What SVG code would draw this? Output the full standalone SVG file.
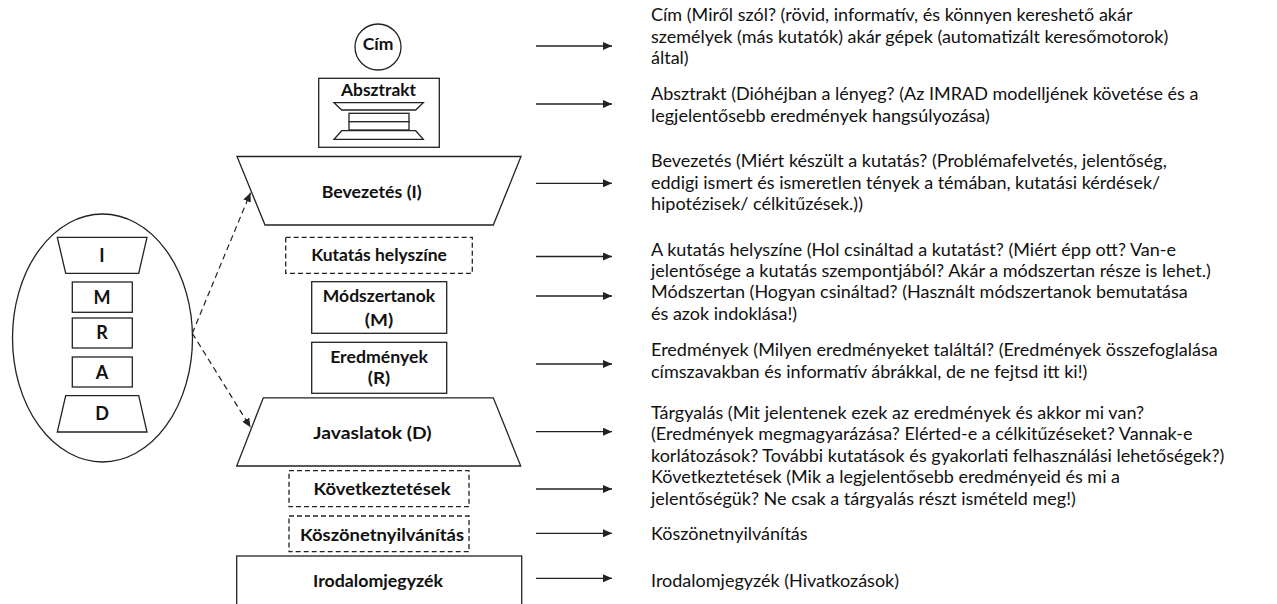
<svg xmlns="http://www.w3.org/2000/svg" width="1277" height="604" viewBox="0 0 1277 604">
<style>
.shape{fill:#fff;stroke:#222;stroke-width:1.3}
.dash{fill:#fff;stroke:#222;stroke-width:1.3;stroke-dasharray:5,3}
.lbl{font-family:Lato,"Liberation Sans",sans-serif;font-weight:bold;font-size:17px;fill:#111;text-anchor:middle}
.big{font-family:Lato,"Liberation Sans",sans-serif;font-weight:bold;font-size:18px;fill:#111;text-anchor:middle}
.txt{font-family:Lato,"Liberation Sans",sans-serif;font-size:18px;fill:#111}
.conn{fill:none;stroke:#222;stroke-width:1.3}
.dconn{fill:none;stroke:#222;stroke-width:1.2;stroke-dasharray:6,4}
</style>
<defs>
<marker id="ah" markerWidth="10" markerHeight="8" refX="9" refY="4" orient="auto" markerUnits="userSpaceOnUse">
<path d="M0,0 L9,4 L0,8 Z" fill="#222"/>
</marker>
</defs>

<g id="imrad">
<ellipse class="shape" cx="102.5" cy="338" rx="90" ry="124"/>
<polygon class="shape" points="57.3,237.3 147,237.3 138.7,273.3 65.7,273.3"/>
<text class="big" x="102" y="262">I</text>
<rect class="shape" x="72.3" y="282" width="60" height="30.3"/>
<text class="big" x="102" y="303.5">M</text>
<rect class="shape" x="72.3" y="318" width="60" height="30"/>
<text class="big" x="102" y="339.3">R</text>
<rect class="shape" x="72.3" y="357" width="60" height="30"/>
<text class="big" x="102" y="378.5">A</text>
<polygon class="shape" points="65.7,395.7 138.7,395.7 147,432 57.3,432"/>
<text class="big" x="102" y="419.5">D</text>
</g>

<g id="cim">
<circle class="shape" cx="378" cy="47" r="23"/>
<text class="lbl" x="378" y="49.5" textLength="30.7" lengthAdjust="spacingAndGlyphs">Cím</text>
</g>

<g id="absztrakt">
<rect class="shape" x="318.7" y="78.3" width="120.6" height="69"/>
<text class="lbl" x="378.5" y="95.7" textLength="75" lengthAdjust="spacingAndGlyphs">Absztrakt</text>
<polygon class="shape" points="334,102.7 423.3,102.7 415.7,110 341.7,110"/>
<rect class="shape" x="349" y="113.3" width="60" height="8.4"/>
<rect class="shape" x="349" y="121.7" width="60" height="8.3"/>
<polygon class="shape" points="341.7,130.7 415.7,130.7 423.3,139.3 334,139.3"/>
</g>

<g id="bevezetes">
<polygon class="shape" points="237,156.5 521,156.5 493.3,225 265,225"/>
<text class="lbl" x="371.7" y="197.5" textLength="100" lengthAdjust="spacingAndGlyphs">Bevezetés (I)</text>
</g>

<g id="kutatas-helyszine">
<rect class="dash" x="285.7" y="237.3" width="186.6" height="36"/>
<text class="lbl" x="379" y="261" textLength="135.7" lengthAdjust="spacingAndGlyphs">Kutatás helyszíne</text>
</g>

<g id="modszertanok">
<rect class="shape" x="311.7" y="281.7" width="135" height="51.6"/>
<text class="lbl" x="379" y="302" textLength="112.3" lengthAdjust="spacingAndGlyphs">Módszertanok</text>
<text class="lbl" x="379" y="325.5" textLength="28.3" lengthAdjust="spacingAndGlyphs">(M)</text>
</g>

<g id="eredmenyek">
<rect class="shape" x="311.7" y="342.3" width="135" height="51"/>
<text class="lbl" x="379" y="362.5" textLength="97.7" lengthAdjust="spacingAndGlyphs">Eredmények</text>
<text class="lbl" x="379" y="384" textLength="22.3" lengthAdjust="spacingAndGlyphs">(R)</text>
</g>

<g id="javaslatok">
<polygon class="shape" points="263.3,397.8 493.3,397.8 520.7,466 236.7,466"/>
<text class="lbl" x="372.5" y="439" textLength="118.3" lengthAdjust="spacingAndGlyphs">Javaslatok (D)</text>
</g>

<g id="kovetkeztetesek">
<rect class="dash" x="289" y="470.7" width="180" height="36"/>
<text class="lbl" x="382" y="494.5" textLength="137" lengthAdjust="spacingAndGlyphs">Következtetések</text>
</g>

<g id="koszonetnyilvanitas">
<rect class="dash" x="289" y="516" width="180" height="35.7"/>
<text class="lbl" x="382" y="540.5" textLength="164" lengthAdjust="spacingAndGlyphs">Köszönetnyilvánítás</text>
</g>

<g id="irodalomjegyzek">
<rect class="shape" x="236.7" y="556" width="285" height="60"/>
<text class="lbl" x="378" y="586.5" textLength="130" lengthAdjust="spacingAndGlyphs">Irodalomjegyzék</text>
</g>

<g id="connectors">
<line class="dconn" x1="192.3" y1="333.3" x2="250.5" y2="192.7" marker-end="url(#ah)"/>
<line class="dconn" x1="192.3" y1="333.3" x2="250.5" y2="427.3" marker-end="url(#ah)"/>
<line class="conn" x1="536" y1="46" x2="612" y2="46" marker-end="url(#ah)"/>
<line class="conn" x1="536" y1="104" x2="612" y2="104" marker-end="url(#ah)"/>
<line class="conn" x1="536" y1="183.3" x2="612" y2="183.3" marker-end="url(#ah)"/>
<line class="conn" x1="536" y1="256.5" x2="612" y2="256.5" marker-end="url(#ah)"/>
<line class="conn" x1="536" y1="296" x2="612" y2="296" marker-end="url(#ah)"/>
<line class="conn" x1="536" y1="364" x2="612" y2="364" marker-end="url(#ah)"/>
<line class="conn" x1="536" y1="431.7" x2="612" y2="431.7" marker-end="url(#ah)"/>
<line class="conn" x1="536" y1="489" x2="612" y2="489" marker-end="url(#ah)"/>
<line class="conn" x1="536" y1="533.3" x2="612" y2="533.3" marker-end="url(#ah)"/>
<line class="conn" x1="536" y1="578.3" x2="612" y2="578.3" marker-end="url(#ah)"/>
</g>

<g id="descriptions">
<text class="txt" x="651" y="21">Cím (Miről szól? (rövid, informatív, és könnyen kereshető akár</text>
<text class="txt" x="651" y="43">személyek (más kutatók) akár gépek (automatizált keresőmotorok)</text>
<text class="txt" x="651" y="64">által)</text>
<text class="txt" x="651" y="100">Absztrakt (Dióhéjban a lényeg? (Az IMRAD modelljének követése és a</text>
<text class="txt" x="651" y="122">legjelentősebb eredmények hangsúlyozása)</text>
<text class="txt" x="651" y="167">Bevezetés (Miért készült a kutatás? (Problémafelvetés, jelentőség,</text>
<text class="txt" x="651" y="189">eddigi ismert és ismeretlen tények a témában, kutatási kérdések/</text>
<text class="txt" x="651" y="210">hipotézisek/ célkitűzések.))</text>
<text class="txt" x="651" y="256">A kutatás helyszíne (Hol csináltad a kutatást? (Miért épp ott? Van-e</text>
<text class="txt" x="651" y="277">jelentősége a kutatás szempontjából? Akár a módszertan része is lehet.)</text>
<text class="txt" x="651" y="298">Módszertan (Hogyan csináltad? (Használt módszertanok bemutatása</text>
<text class="txt" x="651" y="320">és azok indoklása!)</text>
<text class="txt" x="651" y="356">Eredmények (Milyen eredményeket találtál? (Eredmények összefoglalása</text>
<text class="txt" x="651" y="378">címszavakban és informatív ábrákkal, de ne fejtsd itt ki!)</text>
<text class="txt" x="651" y="419">Tárgyalás (Mit jelentenek ezek az eredmények és akkor mi van?</text>
<text class="txt" x="651" y="440">(Eredmények megmagyarázása? Elérted-e a célkitűzéseket? Vannak-e</text>
<text class="txt" x="651" y="462">korlátozások? További kutatások és gyakorlati felhasználási lehetőségek?)</text>
<text class="txt" x="651" y="483">Következtetések (Mik a legjelentősebb eredményeid és mi a</text>
<text class="txt" x="651" y="505">jelentőségük? Ne csak a tárgyalás részt ismételd meg!)</text>
<text class="txt" x="651" y="540">Köszönetnyilvánítás</text>
<text class="txt" x="651" y="587">Irodalomjegyzék (Hivatkozások)</text>
</g>
</svg>
